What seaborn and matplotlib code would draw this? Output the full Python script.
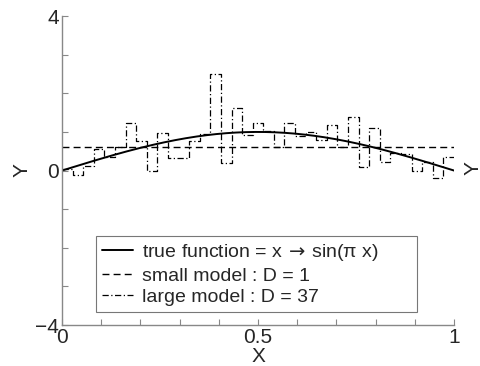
#!/usr/bin/env python3
import numpy as np
import pandas as pd
import seaborn as sns
import matplotlib
matplotlib.use("Agg")
import matplotlib.pyplot as plt

# values
n_bins = 37
large_model_values = [0.05, -0.12, 0.12, 0.55, 0.35, 0.6, 1.23, 0.76, 0.0, 0.97,
                      0.33, 0.33, 0.76, 0.95, 2.5, 0.19, 1.62, 0.92, 1.23, 1.02,
                      0.62, 1.23, 0.9, 1.0, 0.78, 1.17, 0.62, 1.38, 0.1, 1.1,
                      0.22, 0.46, 0.42, 0.0, 0.22, -0.2, 0.35]
small_model_value = 0.6
x_ticks = [round(i * 0.1, 1) for i in range(11)]
x_tick_labels = ["0", "", "", "", "", "0.5", "", "", "", "", "1"]
y_ticks = list(range(-4, 5))
y_tick_labels = ["\u22124", "", "", "", "0", "", "", "", "4"]
labels = ["true function = x$\\,\\rightarrow\\,$sin(\u03c0 x)",
          "small model : D = 1",
          "large model : D = 37"]

sns.set_style("ticks")
plt.rcParams["font.family"] = ["Liberation Sans", "DejaVu Sans"]
plt.rcParams["mathtext.fontset"] = "dejavusans"

# build the data tables
x_true = np.linspace(0, 1, 400)
df_true = pd.DataFrame({"x": x_true, "y": np.sin(np.pi * x_true)})
df_small = pd.DataFrame({"x": [0.0, 1.0], "y": [small_model_value] * 2})
edges = np.linspace(0, 1, n_bins + 1)
df_large = pd.DataFrame({"x": edges, "y": large_model_values + [large_model_values[-1]]})

fig = plt.figure(figsize=(4.8, 3.66), dpi=100)
ax = fig.add_axes([0.129, 0.112, 0.817, 0.844])

sns.lineplot(data=df_true, x="x", y="y", ax=ax, color="black", linewidth=1.4,
             label=labels[0])
sns.lineplot(data=df_small, x="x", y="y", ax=ax, color="black", linewidth=1.0,
             linestyle=(0, (5, 3)), label=labels[1])
sns.lineplot(data=df_large, x="x", y="y", ax=ax, color="black", linewidth=0.9,
             linestyle=(0, (5, 2, 1, 2)), drawstyle="steps-post", label=labels[2])

ax.set_xlim(0, 1)
ax.set_ylim(-4, 4)
ax.set_xticks(x_ticks)
ax.set_xticklabels(x_tick_labels)
ax.set_yticks(y_ticks)
ax.set_yticklabels(y_tick_labels)
ax.tick_params(direction="in", length=4, width=0.8, color="#888888",
               labelsize=15, pad=2)
sns.despine(ax=ax)
for side in ["left", "bottom"]:
    ax.spines[side].set_color("#888888")
    ax.spines[side].set_linewidth(1.0)

ax.set_xlabel("X", fontsize=15, labelpad=0)
ax.set_ylabel("Y", fontsize=15, labelpad=3)
fig.text(0.985, 0.54, "Y", rotation=90, fontsize=15, ha="center", va="center")

leg = ax.legend(loc="lower left", bbox_to_anchor=(0.087, 0.042, 0.819, 0.256),
                mode="expand", fontsize=14, frameon=True, fancybox=False,
                borderaxespad=0, handlelength=1.6, handletextpad=0.45,
                labelspacing=0.2, borderpad=0.3)
leg.get_frame().set_edgecolor("#555555")
leg.get_frame().set_linewidth(0.8)

fig.savefig("out.png", dpi=100)
plt.close(fig)
